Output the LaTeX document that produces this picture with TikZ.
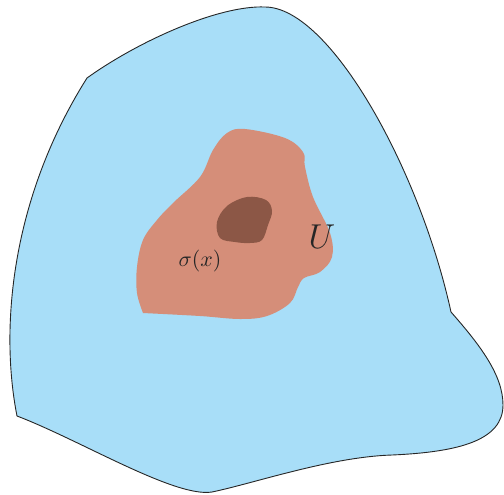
\documentclass[tikz,border=0pt]{standalone}
\usepackage{amsmath}
\usepackage{xcolor}
\usepackage{tikz}
\definecolor{skyblue}{RGB}{168, 222, 248}
\definecolor{salmon}{RGB}{213, 142, 121}
\definecolor{darkspot}{RGB}{140, 87, 70}

\begin{document}
\begin{tikzpicture}[
    x=0.5pt, y=-0.5pt,
    outer/.style={fill=skyblue, draw=black!85, line width=0.45pt},
    inner/.style={fill=salmon},
    spot/.style={fill=darkspot},
    lbl/.style={inner sep=0pt, text=black!85},
]
\useasboundingbox (0,0) rectangle (504,494);

% --- outer region ---
\draw[outer] (87,78) .. controls (140,40) and (220,5) .. (265,7)
    .. controls (330,7) and (420,170) .. (451,312)
    .. controls (480,345) and (503,375) .. (503,405)
    .. controls (503,440) and (460,452) .. (392,455)
    .. controls (330,457) and (255,483) .. (212,492)
    .. controls (175,498) and (80,440) .. (17,416)
    .. controls (0,330) and (10,200) .. (87,78) -- cycle;

% --- open set U ---
\fill[inner] plot[smooth, tension=0.6] coordinates {
    (143,313) (200,316) (240,319) (267,316) (290,303) (298,287)
    (304,278) (320,272) (332,257) (330,233) (313,197) (305,167)
    (303,152) (285,138) (245,129) (227,133) (213,150) (200,177)
    (173,203) (157,220) (143,240) (137,267) (137,293) (143,313)};

% --- image sigma(x) ---
\fill[spot] plot[smooth cycle, tension=0.6] coordinates {
    (220,238) (217,222) (227,206) (247,197) (266,200) (272,211)
    (268,225) (262,240) (250,243) (235,242)};

% --- labels ---
\node[lbl, font=\fontsize{11}{13}\selectfont] (sig) at (200,261) {$\sigma(x)$};
\node[lbl, font=\fontsize{19}{22}\selectfont] (U) at (322,237) {$U$};

\end{tikzpicture}
\end{document}
